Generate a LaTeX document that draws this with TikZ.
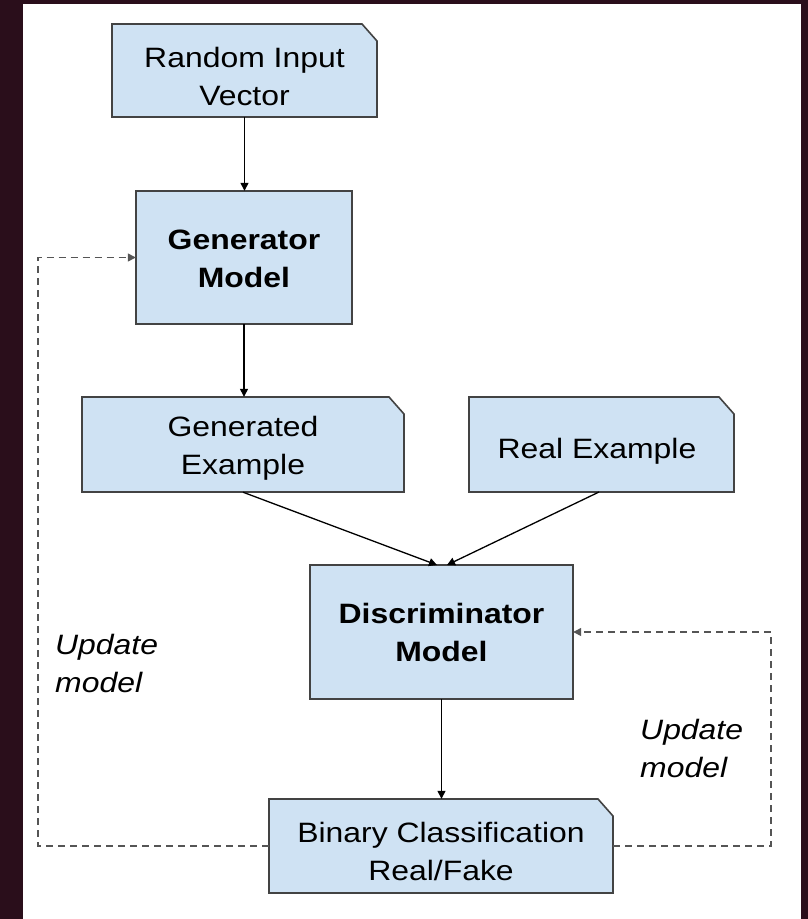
\documentclass[tikz,border=0pt]{standalone}
\usepackage{fontspec}
\setmainfont[FakeStretch=1.14]{Liberation Sans}
\usetikzlibrary{arrows.meta,calc}
\definecolor{backdrop}{HTML}{2A0E1B}
\definecolor{boxfill}{HTML}{CFE2F3}
\definecolor{boxline}{HTML}{434343}
\definecolor{dashline}{HTML}{555555}
\tikzset{
  label text/.style={font=\fontsize{28}{38}\selectfont, align=center, inner sep=0pt},
  flowline/.style={draw=black, line width=1.3pt, -{Triangle[length=8pt,width=8pt]}},
  feedback/.style={draw=dashline, line width=1.3pt, dash pattern=on 7pt off 5pt,
                   -{Triangle[length=8pt,width=8pt]}},
  note text/.style={font=\fontsize{28}{38}\selectfont\itshape, align=left, inner sep=0pt, anchor=base west},
  plainbox/.style={fill=boxfill, draw=boxline, line width=1.6pt},
  anchorbox/.style={inner sep=0pt},
}
% cut-corner box from its south-west and north-east corners
\newcommand{\notebox}[2]{%
  \path[plainbox] (#1) -- (#1 |- #2) -- ($(#2)+(-15,0)$) -- ($(#2)+(0,17)$) -- (#2 |- #1) -- cycle;}
\begin{document}
\begin{tikzpicture}[x=1pt,y=-1pt]
  \useasboundingbox (0,0) rectangle (808,919);
  \fill[backdrop] (0,0) rectangle (808,919);
  \fill[white] (23,4) rectangle (801,919);

  % box corners
  \coordinate (rivSW) at (112,117); \coordinate (rivNE) at (377,24);
  \coordinate (genSW) at (136,324); \coordinate (genNE) at (352,191);
  \coordinate (gexSW) at (82,492);  \coordinate (gexNE) at (404,397);
  \coordinate (rexSW) at (469,492); \coordinate (rexNE) at (734,397);
  \coordinate (disSW) at (310,699); \coordinate (disNE) at (573,565);
  \coordinate (binSW) at (269,893); \coordinate (binNE) at (613,799);

  % box bodies
  \notebox{rivSW}{rivNE}
  \path[plainbox] (genSW) rectangle (genNE);
  \notebox{gexSW}{gexNE}
  \notebox{rexSW}{rexNE}
  \path[plainbox] (disSW) rectangle (disNE);
  \notebox{binSW}{binNE}

  % invisible outlines used as connector ends
  \path (rivSW) -- (rivNE) node[pos=0.5, anchorbox, minimum width=265pt, minimum height=93pt] (riv) {};
  \path (genSW) -- (genNE) node[pos=0.5, anchorbox, minimum width=216pt, minimum height=133pt] (gen) {};
  \path (gexSW) -- (gexNE) node[pos=0.5, anchorbox, minimum width=322pt, minimum height=95pt] (gex) {};
  \path (rexSW) -- (rexNE) node[pos=0.5, anchorbox, minimum width=265pt, minimum height=95pt] (rex) {};
  \path (disSW) -- (disNE) node[pos=0.5, anchorbox, minimum width=263pt, minimum height=134pt] (dis) {};
  \path (binSW) -- (binNE) node[pos=0.5, anchorbox, minimum width=344pt, minimum height=94pt] (bin) {};

  % labels
  \node[label text] (rivT) at (244.5,76) {Random Input\\Vector};
  \node[label text, font=\fontsize{28}{38}\selectfont\bfseries] (genT) at (244,259) {Generator\\Model};
  \node[label text] (gexT) at (243,448.5) {Generated\\Example};
  \node[label text] (rexT) at (597,451) {Real Example};
  \node[label text, font=\fontsize{28}{38}\selectfont\bfseries] (disT) at (441.5,632.5) {Discriminator\\Model};
  \node[label text] (binT) at (441,851) {Binary Classification\\Real/Fake};

  % main flow
  \draw[flowline] (riv.south) -- (riv.south |- gen.north);
  \draw[flowline] (gen.south) -- (gen.south |- gex.north);
  \coordinate (disInL) at (437,565);
  \coordinate (disInR) at (447,565);
  \coordinate (rexOut) at (599,492);
  \draw[flowline] (gex.south) -- (disInL);
  \draw[flowline] (rexOut) -- (disInR);
  \draw[flowline] (dis.south) -- (dis.south |- bin.north);

  % feedback loops
  \coordinate (loopL) at (38,0);
  \coordinate (loopR) at (771,0);
  \draw[feedback] (bin.west) -- (loopL |- bin.west) -- (loopL |- gen.west) -- (gen.west);
  \draw[feedback] (bin.east) -- (loopR |- bin.east) -- (loopR |- dis.east) -- (dis.east);

  \node[note text] (updL) at (55,692) {Update\\model};
  \node[note text] (updR) at (640,777) {Update\\model};
\end{tikzpicture}
\end{document}
